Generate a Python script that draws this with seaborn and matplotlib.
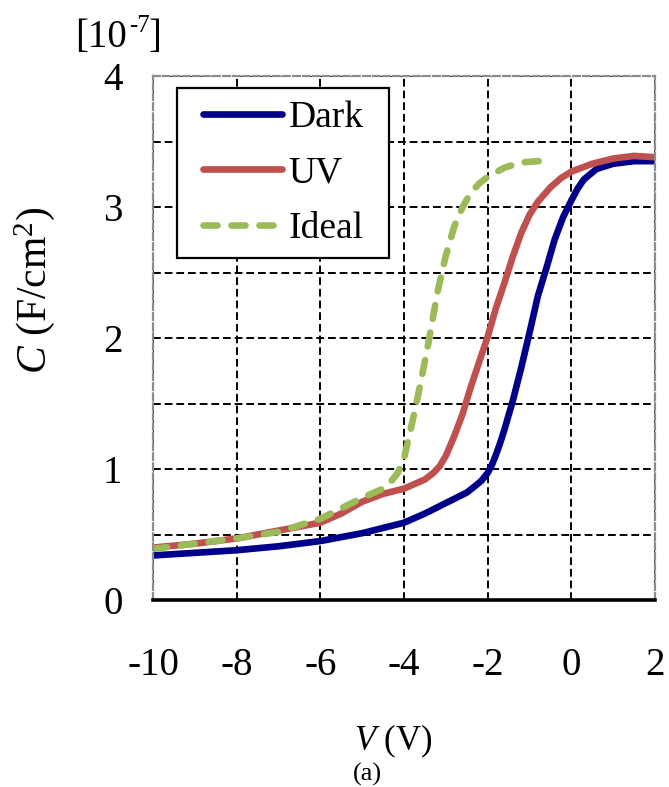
import matplotlib
matplotlib.use("Agg")
import matplotlib.pyplot as plt
import seaborn as sns
import numpy as np

# C-V curves, capacitance in units of 1e-7 F/cm^2
v_dark = [-10, -9, -8, -7, -6, -5, -4, -3.5, -3, -2.5, -2.3, -2.15, -2, -1.9, -1.8, -1.7, -1.6,
          -1.4, -1.2, -1.0, -0.8, -0.6, -0.4, -0.2, 0, 0.15, 0.3, 0.6, 1, 1.5, 2]
c_dark = [0.34, 0.36, 0.38, 0.41, 0.45, 0.51, 0.59, 0.66, 0.74, 0.82, 0.87, 0.91, 0.97, 1.03,
          1.11, 1.20, 1.30, 1.52, 1.77, 2.04, 2.32, 2.53, 2.75, 2.92, 3.05, 3.14, 3.21, 3.29,
          3.33, 3.35, 3.35]

v_uv = [-10, -9, -8, -7, -6, -5.5, -5, -4.5, -4, -3.5, -3.3, -3.15, -3, -2.8, -2.6, -2.4, -2.2,
        -2, -1.8, -1.6, -1.4, -1.2, -1.0, -0.8, -0.5, -0.25, 0, 0.5, 1, 1.5, 2]
c_uv = [0.40, 0.43, 0.47, 0.53, 0.59, 0.66, 0.75, 0.81, 0.85, 0.92, 0.97, 1.02, 1.10, 1.25,
        1.42, 1.63, 1.82, 2.01, 2.23, 2.42, 2.62, 2.80, 2.94, 3.04, 3.15, 3.22, 3.27, 3.33,
        3.37, 3.39, 3.38]

v_ideal = [-10, -9, -8, -7, -6, -5.5, -5, -4.5, -4.3, -4.15, -4, -3.8, -3.6, -3.4, -3.2, -3.0,
           -2.8, -2.6, -2.4, -2.2, -2, -1.6, -1.2, -0.8, -0.45]
c_ideal = [0.39, 0.43, 0.47, 0.52, 0.62, 0.70, 0.78, 0.85, 0.91, 0.97, 1.08, 1.36, 1.66, 1.99,
           2.35, 2.63, 2.85, 3.00, 3.11, 3.18, 3.23, 3.30, 3.34, 3.35, 3.35]

series_names = ["Dark", "UV", "Ideal"]
series_colors = ["#00008B", "#C0504D", "#9BBB59"]

x_ticks = [-10, -8, -6, -4, -2, 0, 2]
y_ticks = [0, 1, 2, 3, 4]

sns.set_style("white")
serif = "Liberation Serif"
plt.rcParams["font.family"] = [serif, "DejaVu Serif"]
plt.rcParams["mathtext.fontset"] = "custom"
plt.rcParams["mathtext.rm"] = serif
plt.rcParams["mathtext.it"] = serif + ":italic"
for key in ["text.color", "axes.labelcolor", "xtick.color", "ytick.color"]:
    plt.rcParams[key] = "black"

fig = plt.figure(figsize=(6.69, 7.87), dpi=100)
ax = fig.add_axes([153 / 669, 1 - 600 / 787, 502 / 669, 524 / 787])

lw = 4.8
sns.lineplot(x=v_dark, y=c_dark, ax=ax, color=series_colors[0], linewidth=lw,
             label=series_names[0], solid_capstyle="round")
sns.lineplot(x=v_uv, y=c_uv, ax=ax, color=series_colors[1], linewidth=lw,
             label=series_names[1], solid_capstyle="round")
sns.lineplot(x=v_ideal, y=c_ideal, ax=ax, color=series_colors[2], linewidth=lw,
             label=series_names[2], linestyle=(0, (2.1, 2.1)), dash_capstyle="round")

ax.set_xlim(-10, 2)
ax.set_ylim(0, 4)
ax.set_xticks(x_ticks)
ax.set_xticklabels([str(t) for t in x_ticks])
ax.set_yticks(y_ticks)
ax.set_yticklabels([str(t) for t in y_ticks])
ax.set_yticks(np.arange(0.5, 4, 1.0), minor=True)

# dashed black grid: every 2 V and every 0.5 unit of C
ax.grid(True, which="both", axis="y", color="black", linestyle=(0, (4, 2)), linewidth=1.4)
ax.grid(True, which="major", axis="x", color="black", linestyle=(0, (4, 2)), linewidth=1.4)
ax.set_axisbelow(True)

for side in ["left", "top", "right"]:
    ax.spines[side].set_visible(True)
    ax.spines[side].set_color("#8c8c8c")
    ax.spines[side].set_linestyle((0, (3, 1.5)))
    ax.spines[side].set_linewidth(1.6)
ax.spines["bottom"].set_color("black")
ax.spines["bottom"].set_linewidth(2.6)

ax.tick_params(axis="x", which="major", direction="in", length=9, width=1.5,
               color="black", labelsize=28, pad=34)
ax.tick_params(axis="y", which="both", length=0, labelsize=28, pad=22)

ax.set_ylabel(r"$\mathit{C}$ (F/cm$^{2}$)", fontsize=30, va="center")
ax.yaxis.set_label_coords((35 - 153) / 502, (600 - 290) / 524)
ax.set_xlabel("")

# unit prefix above the y axis, with a plain hyphen in the exponent
fig.text(75 / 669, 1 - 38 / 787, "[10", fontsize=28, ha="left", va="center")
fig.text(129 / 669, 1 - 26 / 787, "-7", fontsize=18, ha="left", va="center")
fig.text(149 / 669, 1 - 38 / 787, "]", fontsize=28, ha="left", va="center")

fig.text(393 / 669, 1 - 741 / 787, r"$\mathit{V}$ (V)", fontsize=25,
         ha="center", va="center")
fig.text(367 / 669, 1 - 774 / 787, "(a)", fontsize=19, ha="center", va="center")

# legend: tight vertical padding, wider horizontal margin added through the frame
fs_px = 27 * 100 / 72
extra_pad = 0.36
leg = ax.legend(loc="upper left",
                bbox_to_anchor=((177 + extra_pad * fs_px - 153) / 502, (600 - 88) / 524),
                fontsize=27, frameon=True, fancybox=False, handlelength=2.1,
                handletextpad=0.18, borderpad=0.33, labelspacing=0.56, borderaxespad=0)
frame = leg.get_frame()
frame.set_edgecolor("black")
frame.set_linewidth(1.6)
frame.set_alpha(1)
frame.set_boxstyle("square", pad=extra_pad)
frame.set_mutation_aspect(1e-3)

fig.savefig("out.png", dpi=100)
